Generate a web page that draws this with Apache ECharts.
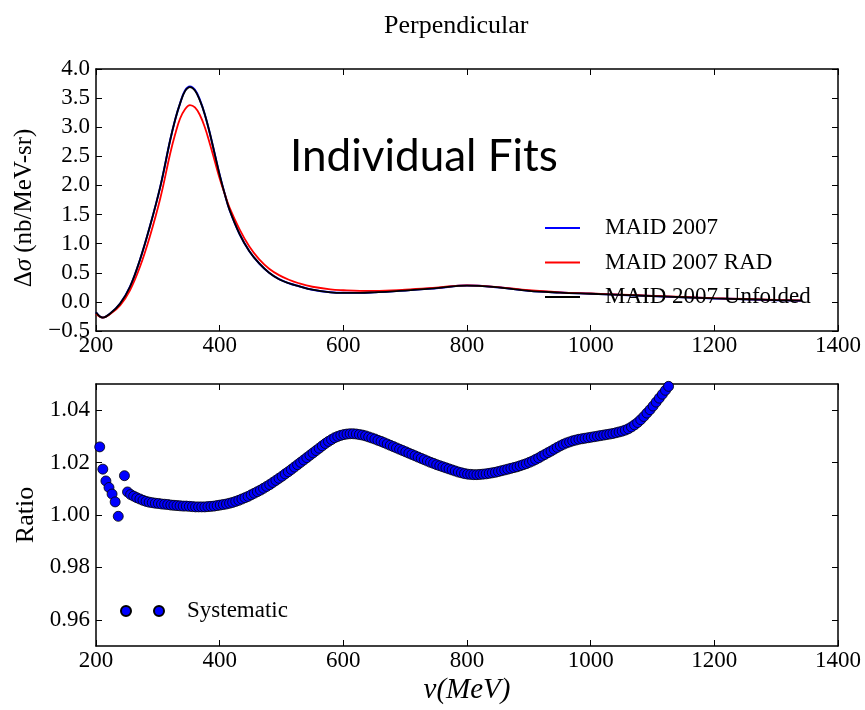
<!DOCTYPE html>
<html>
<head>
<meta charset="utf-8">
<script src="https://cdn.jsdelivr.net/npm/echarts@6/dist/echarts.min.js"></script>
<style>html,body{margin:0;padding:0;background:#fff}#c{width:865px;height:710px}</style>
</head>
<body>
<div id="c"></div>
<script>
// ---- Data ----
const nuTop = [200, 211, 223, 239, 255, 271, 287, 304, 320, 328, 336, 344, 352, 360, 368, 376, 384, 392, 400, 408, 416, 432, 448, 464, 480, 496, 512, 528, 550, 579, 600, 627, 650, 700, 750, 800, 850, 900, 950, 1000, 1050, 1100, 1150, 1200, 1250, 1300, 1340];
const maid2007 = [-0.18, -0.27, -0.20, -0.03, 0.26, 0.72, 1.29, 1.98, 2.78, 3.13, 3.41, 3.63, 3.70, 3.64, 3.47, 3.22, 2.90, 2.54, 2.18, 1.86, 1.58, 1.17, 0.87, 0.66, 0.50, 0.39, 0.32, 0.27, 0.21, 0.165, 0.155, 0.155, 0.165, 0.195, 0.235, 0.28, 0.25, 0.19, 0.16, 0.14, 0.12, 0.10, 0.08, 0.06, 0.045, 0.03, 0.02];
const maid2007Rad = [-0.20, -0.27, -0.21, -0.06, 0.20, 0.60, 1.12, 1.78, 2.55, 2.88, 3.15, 3.31, 3.38, 3.34, 3.21, 3.00, 2.72, 2.42, 2.12, 1.86, 1.62, 1.25, 0.95, 0.73, 0.57, 0.46, 0.38, 0.32, 0.26, 0.215, 0.20, 0.19, 0.19, 0.21, 0.245, 0.285, 0.255, 0.20, 0.165, 0.145, 0.125, 0.105, 0.085, 0.065, 0.05, 0.035, 0.025];
const maid2007Unfolded = [-0.18, -0.27, -0.20, -0.03, 0.26, 0.72, 1.29, 1.98, 2.78, 3.13, 3.41, 3.62, 3.69, 3.63, 3.46, 3.22, 2.90, 2.54, 2.18, 1.86, 1.58, 1.17, 0.87, 0.66, 0.50, 0.39, 0.32, 0.27, 0.21, 0.165, 0.155, 0.155, 0.165, 0.195, 0.235, 0.28, 0.25, 0.19, 0.16, 0.14, 0.12, 0.10, 0.08, 0.06, 0.045, 0.03, 0.02];

const nuRatio = [206, 211, 216, 221, 226, 231, 236, 246, 251, 256, 261, 266, 271, 276, 281, 286, 291, 296, 301, 306, 311, 316, 321, 326, 331, 336, 341, 346, 351, 356, 361, 366, 371, 376, 381, 386, 391, 396, 401, 406, 411, 416, 421, 426, 431, 436, 441, 446, 451, 456, 461, 466, 471, 476, 481, 486, 491, 496, 501, 506, 511, 516, 521, 526, 531, 536, 541, 546, 551, 556, 561, 566, 571, 576, 581, 586, 591, 596, 601, 606, 611, 616, 621, 626, 631, 636, 641, 646, 651, 656, 661, 666, 671, 676, 681, 686, 691, 696, 701, 706, 711, 716, 721, 726, 731, 736, 741, 746, 751, 756, 761, 766, 771, 776, 781, 786, 791, 796, 801, 806, 811, 816, 821, 826, 831, 836, 841, 846, 851, 856, 861, 866, 871, 876, 881, 886, 891, 896, 901, 906, 911, 916, 921, 926, 931, 936, 941, 946, 951, 956, 961, 966, 971, 976, 981, 986, 991, 996, 1001, 1006, 1011, 1016, 1021, 1026, 1031, 1036, 1041, 1046, 1051, 1056, 1061, 1066, 1071, 1076, 1081, 1086, 1091, 1096, 1101, 1106, 1111, 1116, 1121, 1126];
const systematic = [1.026, 1.0175, 1.013, 1.0105, 1.008, 1.005, 0.9995, 1.015, 1.0088, 1.0078, 1.0072, 1.0066, 1.0061, 1.0056, 1.0052, 1.0049, 1.0047, 1.0045, 1.0044, 1.0042, 1.0041, 1.0040, 1.0038, 1.0037, 1.0036, 1.0035, 1.0034, 1.0034, 1.0033, 1.0032, 1.0031, 1.0031, 1.0031, 1.0031, 1.0032, 1.0033, 1.0034, 1.0036, 1.0038, 1.0040, 1.0042, 1.0045, 1.0048, 1.0052, 1.0056, 1.0061, 1.0066, 1.0071, 1.0077, 1.0083, 1.0089, 1.0095, 1.0102, 1.0109, 1.0116, 1.0124, 1.0132, 1.0140, 1.0148, 1.0157, 1.0165, 1.0174, 1.0183, 1.0192, 1.0201, 1.0210, 1.0219, 1.0228, 1.0237, 1.0246, 1.0255, 1.0264, 1.0273, 1.0281, 1.0288, 1.0295, 1.0300, 1.0304, 1.0307, 1.0309, 1.0310, 1.0310, 1.0309, 1.0307, 1.0305, 1.0302, 1.0298, 1.0294, 1.0290, 1.0285, 1.0281, 1.0276, 1.0271, 1.0266, 1.0261, 1.0256, 1.0251, 1.0246, 1.0241, 1.0236, 1.0231, 1.0226, 1.0221, 1.0216, 1.0211, 1.0206, 1.0201, 1.0197, 1.0192, 1.0188, 1.0184, 1.0180, 1.0176, 1.0172, 1.0168, 1.0164, 1.0161, 1.0158, 1.0156, 1.0155, 1.0154, 1.0154, 1.0155, 1.0156, 1.0157, 1.0159, 1.0161, 1.0163, 1.0166, 1.0169, 1.0172, 1.0175, 1.0178, 1.0181, 1.0184, 1.0188, 1.0192, 1.0196, 1.0201, 1.0206, 1.0212, 1.0218, 1.0225, 1.0231, 1.0238, 1.0244, 1.0251, 1.0258, 1.0264, 1.0270, 1.0275, 1.0279, 1.0283, 1.0286, 1.0289, 1.0291, 1.0293, 1.0295, 1.0297, 1.0299, 1.0301, 1.0303, 1.0305, 1.0307, 1.0309, 1.0311, 1.0314, 1.0317, 1.0320, 1.0324, 1.0329, 1.0336, 1.0344, 1.0353, 1.0364, 1.0376, 1.0389, 1.0402, 1.0416, 1.0431, 1.0446, 1.0461, 1.0476, 1.0491];

const ratioTicks = [0.96, 0.98, 1.00, 1.02, 1.04];
const topNames = ['MAID 2007', 'MAID 2007 RAD', 'MAID 2007 Unfolded'];

// ---- Chart ----
const SERIF = 'Liberation Serif';
const FS = 23;
const pair = (xs, ys) => xs.map((x, i) => [x, ys[i]]);
const fmtTop = v => (v < 0 ? '\u2212' : '') + Math.abs(v).toFixed(1);

function xAx(grid, pos, labels, extra) {
  return Object.assign({
    type: 'value', gridIndex: grid, position: pos, min: 200, max: 1400, interval: 200,
    axisLine: { show: true, onZero: false, lineStyle: { color: '#000', width: 1.5 } },
    axisTick: { show: true, inside: true, length: 6, lineStyle: { color: '#000', width: 1 } },
    axisLabel: { show: labels, margin: 3, fontFamily: SERIF, fontSize: FS, color: '#000', formatter: v => String(v) },
    splitLine: { show: false }
  }, extra || {});
}

const chart = echarts.init(document.getElementById('c'), null, { renderer: 'canvas' });
chart.setOption({
  animation: false,
  backgroundColor: '#fff',
  title: [
    { text: 'Perpendicular', left: 379, top: 8, textStyle: { fontFamily: SERIF, fontSize: 26, fontWeight: 'normal', color: '#000' } },
    { text: 'Individual Fits', left: 285, top: 130, textStyle: { fontFamily: 'Lato', fontSize: 44, fontWeight: 'normal', color: '#000' } }
  ],
  grid: [
    { left: 96, top: 69, width: 742, height: 262, show: false },
    { left: 96, top: 384, width: 742, height: 262, show: false }
  ],
  legend: [
    {
      data: topNames.map(n => ({ name: n, icon: 'rect' })), orient: 'vertical', left: 540, top: 211, itemWidth: 35, itemHeight: 2, itemGap: 10.5,
      selectedMode: false,
      textStyle: { fontFamily: SERIF, fontSize: FS, color: '#000', lineHeight: 24, padding: [0, 0, 0, 20] }
    },
    {
      data: [{ name: 'Systematic', icon: 'path://M0,5a5,5 0 1,0 10,0a5,5 0 1,0 -10,0ZM33,5a5,5 0 1,0 10,0a5,5 0 1,0 -10,0Z' }],
      left: 115, top: 594, itemWidth: 43, itemHeight: 10, selectedMode: false,
      textStyle: { fontFamily: SERIF, fontSize: FS, color: '#000', lineHeight: 24, padding: [0, 0, 0, 18] }
    }
  ],
  xAxis: [
    xAx(0, 'bottom', true),
    xAx(0, 'top', false),
    xAx(1, 'bottom', true, {
      name: '{i|\u03bd(MeV)}', nameLocation: 'middle', nameGap: 30,
      nameTextStyle: { rich: { i: { fontFamily: SERIF, fontStyle: 'italic', fontSize: 29, color: '#000' } } }
    }),
    xAx(1, 'top', false)
  ],
  yAxis: [
    {
      type: 'value', gridIndex: 0, position: 'left', min: -0.5, max: 4.0, interval: 0.5,
      name: '{a|\u0394}{b|\u03c3}{a| (nb/MeV-sr)}', nameLocation: 'middle', nameGap: 53, nameRotate: 90,
      nameTextStyle: { padding: [0, 16, 0, 0], rich: { a: { fontFamily: SERIF, fontSize: 25, color: '#000' }, b: { fontFamily: SERIF, fontStyle: 'italic', fontSize: 25, color: '#000' } } },
      axisLine: { show: true, onZero: false, lineStyle: { color: '#000', width: 1.5 } },
      axisTick: { show: true, inside: true, length: 6, lineStyle: { color: '#000', width: 1 } },
      axisLabel: { margin: 6, fontFamily: SERIF, fontSize: FS, color: '#000', formatter: fmtTop },
      splitLine: { show: false }
    },
    {
      type: 'value', gridIndex: 0, position: 'right', min: -0.5, max: 4.0, interval: 0.5,
      axisLine: { show: true, onZero: false, lineStyle: { color: '#000', width: 1.5 } },
      axisTick: { show: true, inside: true, length: 6, lineStyle: { color: '#000', width: 1 } },
      axisLabel: { show: false }, splitLine: { show: false }
    },
    {
      type: 'value', gridIndex: 1, position: 'left', min: 0.95, max: 1.05,
      name: 'Ratio', nameLocation: 'middle', nameGap: 57, nameRotate: 90,
      nameTextStyle: { fontFamily: SERIF, fontSize: 26, color: '#000' },
      axisLine: { show: true, onZero: false, lineStyle: { color: '#000', width: 1.5 } },
      axisTick: { show: true, inside: true, length: 6, customValues: ratioTicks, lineStyle: { color: '#000', width: 1 } },
      axisLabel: { margin: 6, fontFamily: SERIF, fontSize: FS, color: '#000', customValues: ratioTicks, formatter: v => v.toFixed(2) },
      splitLine: { show: false }
    },
    {
      type: 'value', gridIndex: 1, position: 'right', min: 0.95, max: 1.05,
      axisLine: { show: true, onZero: false, lineStyle: { color: '#000', width: 1.5 } },
      axisTick: { show: true, inside: true, length: 6, customValues: ratioTicks, lineStyle: { color: '#000', width: 1 } },
      axisLabel: { show: false }, splitLine: { show: false }
    }
  ],
  series: [
    { name: topNames[0], type: 'line', xAxisIndex: 0, yAxisIndex: 0, data: pair(nuTop, maid2007), symbol: 'none', smooth: 0.4, lineStyle: { color: '#0000ff', width: 2 }, itemStyle: { color: '#0000ff' }, z: 2 },
    { name: topNames[1], type: 'line', xAxisIndex: 0, yAxisIndex: 0, data: pair(nuTop, maid2007Rad), symbol: 'none', smooth: 0.4, lineStyle: { color: '#ff0000', width: 1.8 }, itemStyle: { color: '#ff0000' }, z: 3 },
    { name: topNames[2], type: 'line', xAxisIndex: 0, yAxisIndex: 0, data: pair(nuTop, maid2007Unfolded), symbol: 'none', smooth: 0.4, lineStyle: { color: '#000000', width: 1.8 }, itemStyle: { color: '#000000' }, z: 4 },
    { name: 'Systematic', type: 'scatter', xAxisIndex: 2, yAxisIndex: 2, data: pair(nuRatio, systematic), symbol: 'circle', symbolSize: 10, clip: true, itemStyle: { color: '#0000ff', borderColor: '#000', borderWidth: 0.8, opacity: 1 } }
  ]
});
</script>
</body>
</html>
